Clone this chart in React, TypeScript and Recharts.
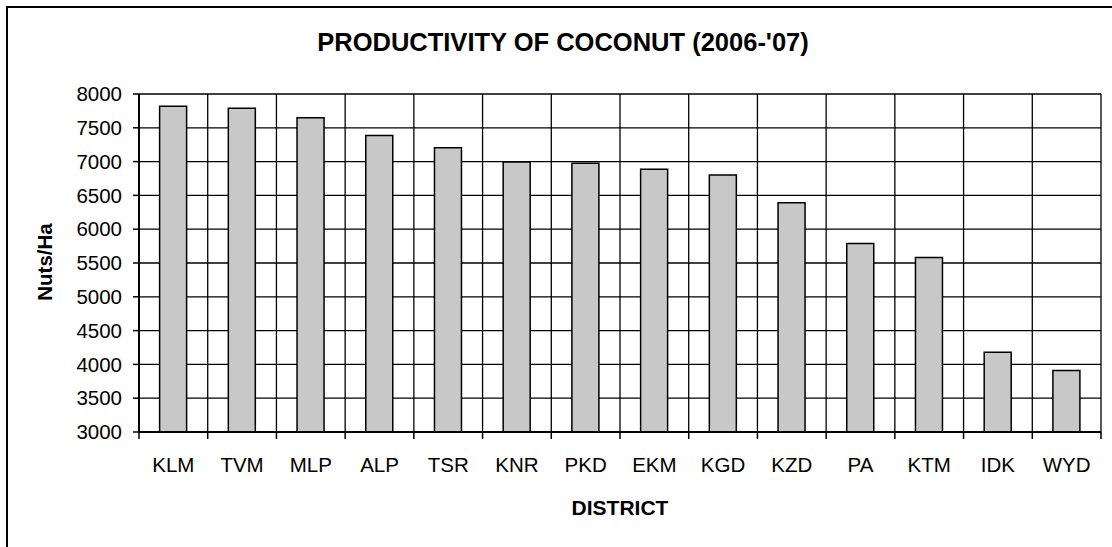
import React from 'react';
import { BarChart, Bar, XAxis, YAxis, CartesianGrid } from 'recharts';

// District codes and coconut productivity (nuts per hectare), 2006-07
const districts = ['KLM', 'TVM', 'MLP', 'ALP', 'TSR', 'KNR', 'PKD', 'EKM', 'KGD', 'KZD', 'PA', 'KTM', 'IDK', 'WYD'];
const nutsPerHa = [7820, 7790, 7650, 7385, 7205, 6995, 6975, 6885, 6800, 6390, 5790, 5580, 4180, 3910];
const yTicks = [3000, 3500, 4000, 4500, 5000, 5500, 6000, 6500, 7000, 7500, 8000];

const FONT = '"Liberation Sans", Arial, sans-serif';
const W = 1112;
const H = 547;
const margin = { top: 94, right: 11, left: 79, bottom: 55 };
const Y_AXIS_W = 60;
const X_AXIS_H = 60;
const PLOT_W = W - margin.left - Y_AXIS_W - margin.right;
const BAND = PLOT_W / districts.length;

const data = districts.map((d, i) => ({ district: d, value: nutsPerHa[i] }));

const DistrictTick = ({ x, y, payload, index }: any) => {
  // y arrives as axis line + tickSize; draw boundary ticks like Excel does
  const axisY = y - 6;
  const left = x - BAND / 2;
  const right = x + BAND / 2;
  return (
    <g>
      <line x1={left} x2={left} y1={axisY} y2={axisY + 7} stroke="#000" strokeWidth={1.5} />
      {index === districts.length - 1 && (
        <line x1={right} x2={right} y1={axisY} y2={axisY + 7} stroke="#000" strokeWidth={1.5} />
      )}
      <text x={x} y={axisY + 40} textAnchor="middle" fill="#000" fontSize={20.5} fontFamily={FONT}>
        {payload.value}
      </text>
    </g>
  );
};

export default function App() {
  return (
    <div style={{ position: 'fixed', left: 0, top: 0, width: W, height: H, overflow: 'hidden', background: '#fff', fontFamily: FONT }}>
      <div style={{ position: 'absolute', left: 6, top: 6, width: 1300, height: 800, borderLeft: '2px solid #000', borderTop: '2px solid #000' }} />
      <div style={{ position: 'absolute', left: 563, top: 42, transform: 'translate(-50%, -50%)', whiteSpace: 'nowrap', fontWeight: 'bold', fontSize: 25.5, color: '#000' }}>
        PRODUCTIVITY OF COCONUT (2006-'07)
      </div>
      <div style={{ position: 'absolute', left: 45, top: 262, transform: 'translate(-50%, -50%) rotate(-90deg)', whiteSpace: 'nowrap', fontWeight: 'bold', fontSize: 20.5, color: '#000' }}>
        Nuts/Ha
      </div>
      <div style={{ position: 'absolute', left: 620, top: 508, transform: 'translate(-50%, -50%)', whiteSpace: 'nowrap', fontWeight: 'bold', fontSize: 21, color: '#000' }}>
        DISTRICT
      </div>
      <div style={{ position: 'absolute', left: 0, top: 0 }}>
        <BarChart width={W} height={H} data={data} margin={margin} barCategoryGap="30%">
          <CartesianGrid
            stroke="#000"
            strokeWidth={1.3}
            verticalCoordinatesGenerator={({ offset }: any) =>
              Array.from({ length: districts.length + 1 }, (_, i) => offset.left + (i * offset.width) / districts.length)
            }
          />
          <XAxis
            dataKey="district"
            height={X_AXIS_H}
            interval={0}
            tickLine={false}
            tickSize={6}
            tickMargin={0}
            axisLine={{ stroke: '#000', strokeWidth: 2 }}
            tick={<DistrictTick />}
          />
          <YAxis
            width={Y_AXIS_W}
            domain={[3000, 8000]}
            ticks={yTicks}
            allowDataOverflow
            tickSize={6}
            tickMargin={11}
            tickLine={{ stroke: '#000', strokeWidth: 1.5 }}
            axisLine={{ stroke: '#000', strokeWidth: 2 }}
            tick={{ fill: '#000', fontSize: 20.5, fontFamily: FONT }}
          />
          <Bar dataKey="value" fill="#c8c8c8" stroke="#000" strokeWidth={1.5} isAnimationActive={false} />
        </BarChart>
      </div>
    </div>
  );
}
